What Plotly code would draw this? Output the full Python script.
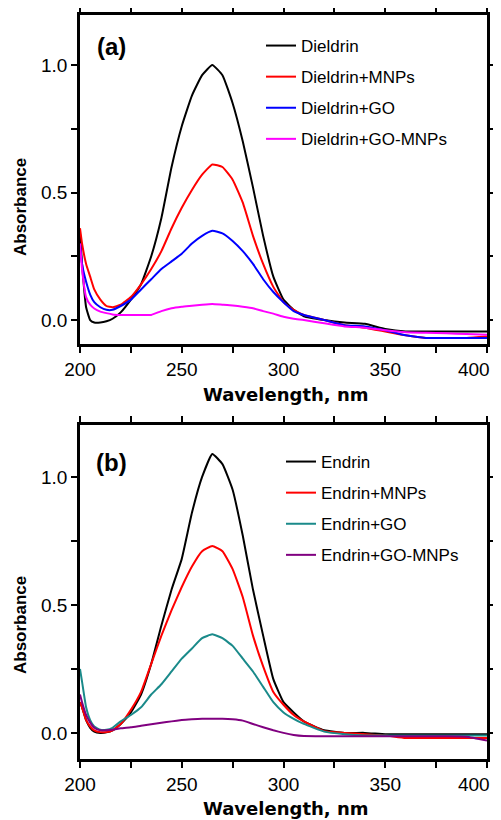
import plotly.graph_objects as go

# ---------------- data ----------------
wavelength = [200, 201, 203, 205, 207, 210, 213, 216, 220, 225, 230, 235, 240, 245, 250,
              255, 260, 265, 270, 275, 280, 285, 290, 295, 300, 305, 310, 320, 330, 340,
              350, 360, 370, 380, 390, 400]

dieldrin = [0.34, 0.22, 0.05, 0.0, -0.01, -0.01, -0.005, 0.005, 0.03, 0.08, 0.14, 0.25, 0.40, 0.60, 0.76,
            0.88, 0.96, 1.0, 0.96, 0.85, 0.70, 0.52, 0.33, 0.17, 0.08, 0.04, 0.015, 0.0, -0.01, -0.015,
            -0.035, -0.045, -0.045, -0.045, -0.045, -0.045]
dieldrin_mnps = [0.36, 0.30, 0.22, 0.17, 0.12, 0.08, 0.055, 0.05, 0.06, 0.09, 0.14, 0.20, 0.27, 0.36, 0.44,
                 0.51, 0.57, 0.61, 0.60, 0.55, 0.46, 0.33, 0.22, 0.13, 0.07, 0.04, 0.02, 0.0, -0.02, -0.03,
                 -0.045, -0.06, -0.07, -0.07, -0.07, -0.065]
dieldrin_go = [0.30, 0.22, 0.15, 0.10, 0.07, 0.05, 0.04, 0.04, 0.055, 0.08, 0.12, 0.16, 0.20, 0.23, 0.26,
               0.30, 0.33, 0.35, 0.34, 0.31, 0.27, 0.22, 0.16, 0.11, 0.07, 0.035, 0.02, 0.0, -0.02, -0.025,
               -0.04, -0.06, -0.07, -0.07, -0.07, -0.07]
dieldrin_go_mnps = [0.30, 0.20, 0.09, 0.06, 0.045, 0.033, 0.027, 0.022, 0.02, 0.02, 0.02, 0.02, 0.035, 0.046, 0.052,
                    0.056, 0.06, 0.063, 0.06, 0.057, 0.052, 0.046, 0.035, 0.025, 0.013, 0.005, 0.0, -0.013, -0.025, -0.03,
                    -0.04, -0.048, -0.05, -0.052, -0.055, -0.058]

endrin = [0.12, 0.10, 0.05, 0.02, 0.005, 0.0, 0.002, 0.01, 0.035, 0.08, 0.15, 0.27, 0.42, 0.56, 0.68,
          0.86, 1.0, 1.09, 1.05, 0.95, 0.77, 0.56, 0.38, 0.21, 0.12, 0.08, 0.045, 0.01, 0.0, 0.0,
          -0.005, -0.005, -0.005, -0.005, -0.005, -0.005]
endrin_mnps = [0.12, 0.10, 0.05, 0.025, 0.01, 0.003, 0.003, 0.01, 0.035, 0.09, 0.16, 0.27, 0.38, 0.48, 0.57,
               0.65, 0.71, 0.73, 0.71, 0.64, 0.53, 0.38, 0.26, 0.16, 0.11, 0.07, 0.045, 0.007, 0.0, -0.005,
               -0.01, -0.02, -0.02, -0.02, -0.02, -0.02]
endrin_go = [0.25, 0.20, 0.10, 0.05, 0.025, 0.012, 0.012, 0.02, 0.045, 0.07, 0.10, 0.15, 0.19, 0.24, 0.29,
             0.33, 0.37, 0.385, 0.37, 0.34, 0.29, 0.24, 0.18, 0.12, 0.08, 0.055, 0.035, 0.005, -0.005, -0.01,
             -0.01, -0.01, -0.01, -0.01, -0.01, -0.01]
endrin_go_mnps = [0.15, 0.12, 0.07, 0.04, 0.02, 0.01, 0.01, 0.012, 0.018, 0.022, 0.028, 0.034, 0.04, 0.045, 0.05,
                  0.053, 0.055, 0.055, 0.055, 0.053, 0.048, 0.035, 0.022, 0.01, 0.0, -0.008, -0.012, -0.013, -0.013, -0.013,
                  -0.013, -0.013, -0.013, -0.013, -0.015, -0.03]

names_a = ["Dieldrin", "Dieldrin+MNPs", "Dieldrin+GO", "Dieldrin+GO-MNPs"]
names_b = ["Endrin", "Endrin+MNPs", "Endrin+GO", "Endrin+GO-MNPs"]
colors_a = ["#000000", "#ff0000", "#0000ff", "#ff00ff"]
colors_b = ["#000000", "#ff0000", "#1a8a8a", "#800080"]

x_ticks = [200, 250, 300, 350, 400]
# the last label sits left of its tick so it stays inside the page (padded with no-break spaces)
x_tick_text = ["200", "250", "300", "350", "400\u00a0\u00a0\u00a0\u00a0\u00a0"]
y_ticks = [0.0, 0.5, 1.0]
y_tick_text = ["0.0", "0.5", "1.0"]

# ---------------- geometry ----------------
# the page body adds an 8px margin, so the figure is sized/offset to compensate
OFF = 8
W, H = 501 - OFF, 820 - OFF
FONT = "Arial, Liberation Sans, Helvetica, sans-serif"
FONT_T = "DejaVu Sans, Arial, sans-serif"

def PX(x):
    return (x - OFF) / W

def PY(y):
    return (H - (y - OFF)) / H

xdom = [PX(80), PX(487)]
dom_a = [PY(344), PY(15)]
dom_b = [PY(759), PY(425)]
rng_a = [-0.094, 1.196]
rng_b = [-0.102, 1.203]

fig = go.Figure()

series_a = [dieldrin, dieldrin_mnps, dieldrin_go, dieldrin_go_mnps]
series_b = [endrin, endrin_mnps, endrin_go, endrin_go_mnps]

for i, (name, col, ys) in enumerate(zip(names_a, colors_a, series_a)):
    fig.add_trace(go.Scatter(x=wavelength, y=ys, name=name, mode="lines",
                             line=dict(color=col, width=2, shape="spline", smoothing=0.4),
                             xaxis="x", yaxis="y", legend="legend", legendgroup="a%d" % i))
for i, (name, col, ys) in enumerate(zip(names_b, colors_b, series_b)):
    fig.add_trace(go.Scatter(x=wavelength, y=ys, name=name, mode="lines",
                             line=dict(color=col, width=2, shape="spline", smoothing=0.4),
                             xaxis="x2", yaxis="y2", legend="legend2", legendgroup="b%d" % i))

tickfont = dict(family=FONT, size=19, color="black")

def xaxis_main(anchor):
    return dict(domain=xdom, range=[200, 400], anchor=anchor, automargin=False,
                tickvals=x_ticks, ticktext=x_tick_text,
                ticks="outside", ticklen=6, tickwidth=2, tickcolor="black",
                ticklabeloverflow="allow",
                minor=dict(tickvals=[225, 275, 325, 375], ticks="outside", ticklen=6,
                           tickwidth=2, tickcolor="black", showgrid=False),
                showline=True, linewidth=2.5, linecolor="black", mirror="ticks",
                showgrid=False, zeroline=False, tickfont=tickfont)

def yaxis_main(anchor, dom, rng):
    return dict(domain=dom, range=rng, anchor=anchor, automargin=False,
                tickvals=y_ticks, ticktext=y_tick_text, ticks="outside", ticklen=6,
                tickwidth=2, tickcolor="black",
                minor=dict(tickvals=[0.25, 0.75], ticks="outside", ticklen=6,
                           tickwidth=2, tickcolor="black", showgrid=False),
                showline=True, linewidth=2.5, linecolor="black", mirror="ticks",
                showgrid=False, zeroline=False, tickfont=tickfont)

legend_common = dict(font=dict(family=FONT, size=17, color="black"), bgcolor="rgba(0,0,0,0)",
                     borderwidth=0, xanchor="left", yanchor="top", tracegroupgap=6,
                     itemwidth=30)

fig.update_layout(
    template="none",
    width=W, height=H,
    margin=dict(l=0, r=0, t=0, b=0, autoexpand=False),
    paper_bgcolor="white", plot_bgcolor="white",
    showlegend=True,
    xaxis=xaxis_main("y"),
    yaxis=yaxis_main("x", dom_a, rng_a),
    xaxis2=xaxis_main("y2"),
    yaxis2=yaxis_main("x2", dom_b, rng_b),
    legend=dict(x=PX(261), y=PY(28), **legend_common),
    legend2=dict(x=PX(281), y=PY(444), **legend_common),
)

def add_text(text, x, y, size, family, angle=0):
    fig.add_annotation(text=text, x=PX(x), y=PY(y), xref="paper", yref="paper",
                       xanchor="center", yanchor="middle", showarrow=False, textangle=angle,
                       font=dict(size=size, family=family, color="black"))

add_text("<b>(a)</b>", 111, 46, 24, FONT)
add_text("<b>(b)</b>", 111, 463, 24, FONT)
add_text("<b>Wavelength, nm</b>", 285, 395, 18, FONT_T)
add_text("<b>Wavelength, nm</b>", 285, 808, 18, FONT_T)
add_text("<b>Absorbance</b>", 20, 207, 17, FONT, -90)
add_text("<b>Absorbance</b>", 20, 625, 17, FONT, -90)

fig.write_html("out.html")
